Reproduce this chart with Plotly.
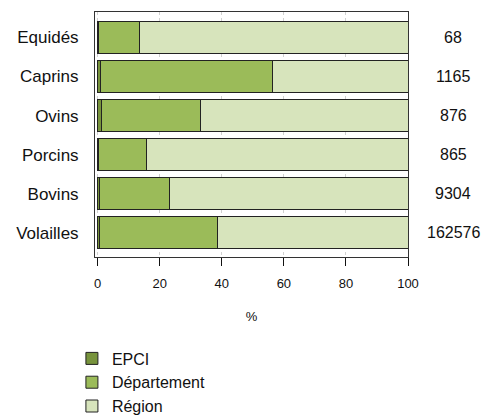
import plotly.graph_objects as go

categories = ["Equidés", "Caprins", "Ovins", "Porcins", "Bovins", "Volailles"]
epci = [0.3, 1.0, 1.2, 0.3, 0.5, 0.5]
departement = [13.1, 55.3, 31.8, 15.3, 22.7, 38.2]
region = [round(100 - e - d, 1) for e, d in zip(epci, departement)]
totals = ["68", "1165", "876", "865", "9304", "162576"]
x_ticks = [0, 20, 40, 60, 80, 100]

series = [
    ("EPCI", epci, "#77933C"),
    ("Département", departement, "#9BBB59"),
    ("Région", region, "#D7E4BC"),
]

FONT = "Liberation Sans, Arial, sans-serif"

fig = go.Figure()
for name, vals, col in series:
    fig.add_trace(go.Bar(
        y=categories, x=vals, name=name, orientation="h",
        marker=dict(color=col, line=dict(color="#222222", width=1)),
        width=0.83,
    ))

for cat, t in zip(categories, totals):
    fig.add_annotation(x=1.145, xref="paper", y=cat, yref="y", text=t,
                       showarrow=False, font=dict(size=16, color="#111111", family=FONT),
                       xanchor="center", yanchor="middle")

fig.update_layout(
    barmode="stack",
    width=481, height=418,
    margin=dict(l=95, r=73, t=12, b=161, autoexpand=False),
    paper_bgcolor="white", plot_bgcolor="white",
    font=dict(family=FONT, color="#111111"),
    showlegend=True,
    legend=dict(xref="container", yref="container", x=0.1495, xanchor="left",
                y=0.183, yanchor="top",
                font=dict(size=16, family=FONT), traceorder="normal",
                bgcolor="rgba(0,0,0,0)", itemclick=False),
)
fig.update_xaxes(
    range=[-0.85, 100], tickvals=x_ticks, ticktext=[str(v) for v in x_ticks],
    ticks="outside", ticklen=8, tickcolor="#111111", tickfont=dict(size=13),
    ticklabelstandoff=6,
    showgrid=True, gridcolor="#d0d0d0", griddash="dot", gridwidth=1,
    showline=True, linecolor="#333333", linewidth=1, mirror=True, zeroline=False,
    title=dict(text="%", font=dict(size=13), standoff=22),
)
fig.update_yaxes(
    categoryorder="array", categoryarray=categories,
    range=[5.62, -0.65], tickfont=dict(size=17),
    showgrid=False, showline=True, linecolor="#333333", linewidth=1, mirror=True,
    ticks="", ticklabelstandoff=12,
)

fig.write_html(
    "out.html",
    config={"displayModeBar": False},
    post_script="document.body.style.margin='0';document.body.style.overflow='hidden';",
)
